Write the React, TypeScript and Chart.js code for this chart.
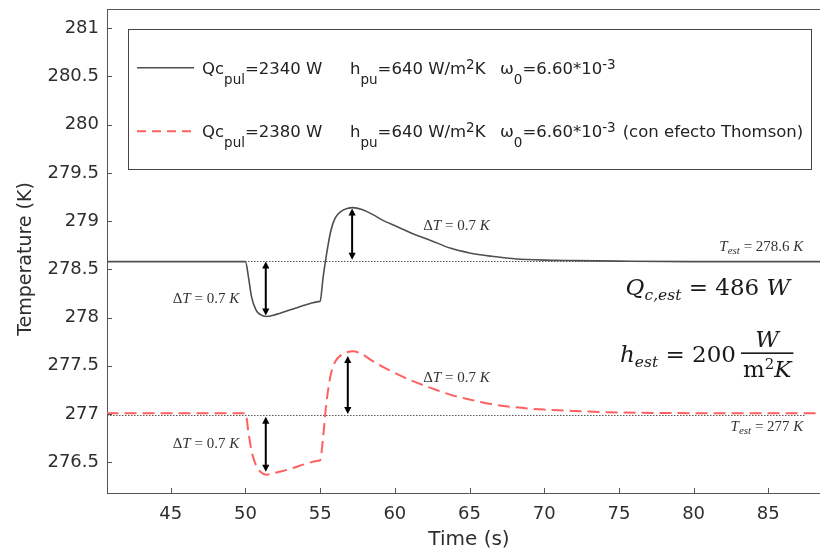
import React, { useEffect, useRef } from "react";
import { Chart, registerables } from "chart.js";

Chart.register(...registerables);

// ---------- data ----------
const timeS = [40.7, 50.0, 50.2, 50.4, 50.7, 51.0, 51.4, 52.0, 53.0, 54.0, 54.9, 55.0, 55.2, 55.4, 55.7, 56.0, 56.4, 56.8, 57.2, 57.8, 58.5, 59.3, 60.2, 61.2, 62.4, 63.7, 65.0, 66.5, 68.0, 70.0, 72.0, 75.0, 80.0, 89.2];
const tempNoThomson = [278.58, 278.58, 278.42, 278.22, 278.08, 278.03, 278.01, 278.03, 278.08, 278.13, 278.165, 278.17, 278.42, 278.63, 278.89, 279.03, 279.10, 279.13, 279.14, 279.12, 279.07, 279.00, 278.94, 278.87, 278.80, 278.72, 278.67, 278.635, 278.61, 278.595, 278.59, 278.585, 278.58, 278.58];
const tempThomson = [277.007, 277.007, 276.81, 276.62, 276.47, 276.40, 276.37, 276.39, 276.43, 276.48, 276.515, 276.52, 276.76, 277.09, 277.40, 277.54, 277.61, 277.64, 277.65, 277.62, 277.55, 277.48, 277.41, 277.34, 277.27, 277.20, 277.15, 277.10, 277.07, 277.045, 277.03, 277.015, 277.008, 277.007];

const xTickValues = [45, 50, 55, 60, 65, 70, 75, 80, 85];
const yTickValues = [276.5, 277, 277.5, 278, 278.5, 279, 279.5, 280, 280.5, 281];
const xRange = [40.73, 89.2];
const yRange = [276.18, 281.2];
const xTitle = "Time (s)";
const yTitle = "Temperature (K)";

const steadyTemps = [278.59, 276.99];
const steadyLineEnd = 87.46;
const steadyLabels = ["278.6", "277"];
const steadyLabelTemps = [278.73, 276.86];
const steadyLabelRight = 87.35;

const arrowTimes = [51.36, 57.14, 51.36, 56.85];
const arrowTops = [278.58, 279.13, 276.97, 277.6];
const arrowBottoms = [278.02, 278.6, 276.4, 277.0];

const deltaLabelTimes = [45.13, 61.9, 45.13, 61.9];
const deltaLabelTemps = [278.19, 278.95, 276.69, 277.37];
const deltaValue = "0.7";

const qcValue = "486";
const hValue = "200";
const eqTime = [75.45, 75.07];
const eqTemp = [278.23, 277.54];

const legendQc = ["2340", "2380"];
const legendH = "640";
const legendOmega = "6.60";
const legendExtra = ["", "(con efecto Thomson)"];

// ---------- styles ----------
const SANS = '"DejaVu Sans", Verdana, sans-serif';
const SERIF = '"Liberation Serif", "Times New Roman", serif';
const MATH = '"DejaVu Serif", serif';
const AXIS = "#555555";
const TXT = "#2e2e2e";
const GRAY = "#4f4f4f";
const RED = "#ff6060";

type Seg = { t: string; f: string; dy?: number };

function segsWidth(ctx: CanvasRenderingContext2D, segs: Seg[]) {
  let w = 0;
  for (const s of segs) {
    ctx.font = s.f;
    w += ctx.measureText(s.t).width;
  }
  return w;
}

function drawSegs(ctx: CanvasRenderingContext2D, segs: Seg[], x: number, y: number) {
  let cx = x;
  for (const s of segs) {
    ctx.font = s.f;
    ctx.fillText(s.t, cx, y + (s.dy || 0));
    cx += ctx.measureText(s.t).width;
  }
  return cx;
}

function drawArrow(ctx: CanvasRenderingContext2D, x: number, yTop: number, yBot: number) {
  const h = 7;
  const w = 3.6;
  ctx.beginPath();
  ctx.moveTo(x, yTop + h - 1);
  ctx.lineTo(x, yBot - h + 1);
  ctx.stroke();
  ctx.beginPath();
  ctx.moveTo(x, yTop);
  ctx.lineTo(x - w, yTop + h);
  ctx.lineTo(x + w, yTop + h);
  ctx.closePath();
  ctx.fill();
  ctx.beginPath();
  ctx.moveTo(x, yBot);
  ctx.lineTo(x - w, yBot - h);
  ctx.lineTo(x + w, yBot - h);
  ctx.closePath();
  ctx.fill();
}

const overlayPlugin = {
  id: "overlay",
  beforeDatasetsDraw(chart: any) {
    const { ctx, chartArea: a, scales } = chart;
    const x = scales.x;
    const y = scales.y;
    ctx.save();
    ctx.strokeStyle = "#555";
    ctx.lineWidth = 1;
    ctx.setLineDash([1.5, 1.5]);
    for (const t of steadyTemps) {
      const py = Math.round(y.getPixelForValue(t)) + 0.5;
      ctx.beginPath();
      ctx.moveTo(a.left, py);
      ctx.lineTo(x.getPixelForValue(steadyLineEnd), py);
      ctx.stroke();
    }
    ctx.restore();
  },
  afterDatasetsDraw(chart: any) {
    const { ctx, chartArea: a, scales } = chart;
    const x = scales.x;
    const y = scales.y;
    ctx.save();
    // frame top + inward ticks
    ctx.strokeStyle = AXIS;
    ctx.lineWidth = 1;
    ctx.beginPath();
    ctx.moveTo(a.left, a.top + 0.5);
    ctx.lineTo(a.right, a.top + 0.5);
    ctx.stroke();
    for (const v of xTickValues) {
      const px = Math.round(x.getPixelForValue(v)) + 0.5;
      ctx.beginPath();
      ctx.moveTo(px, a.bottom);
      ctx.lineTo(px, a.bottom - 5);
      ctx.stroke();
    }
    for (const v of yTickValues) {
      const py = Math.round(y.getPixelForValue(v)) + 0.5;
      ctx.beginPath();
      ctx.moveTo(a.left, py);
      ctx.lineTo(a.left + 5, py);
      ctx.stroke();
    }

    // y axis title
    ctx.save();
    ctx.fillStyle = TXT;
    ctx.font = `19px ${SANS}`;
    ctx.textAlign = "center";
    ctx.textBaseline = "middle";
    ctx.translate(26, (a.top + a.bottom) / 2 + 8);
    ctx.rotate(-Math.PI / 2);
    ctx.fillText(yTitle, 0, 0);
    ctx.restore();

    // arrows
    ctx.strokeStyle = "#000";
    ctx.fillStyle = "#000";
    ctx.lineWidth = 2;
    for (let i = 0; i < arrowTimes.length; i++) {
      drawArrow(ctx, x.getPixelForValue(arrowTimes[i]), y.getPixelForValue(arrowTops[i]), y.getPixelForValue(arrowBottoms[i]));
    }

    // delta labels
    ctx.fillStyle = "#333";
    ctx.textBaseline = "middle";
    const fN = `15px ${SERIF}`;
    const fI = `italic 15px ${SERIF}`;
    for (let i = 0; i < deltaLabelTimes.length; i++) {
      drawSegs(
        ctx,
        [
          { t: "\u0394", f: fN },
          { t: "T", f: fI },
          { t: ` = ${deltaValue} `, f: fN },
          { t: "K", f: fI },
        ],
        x.getPixelForValue(deltaLabelTimes[i]),
        y.getPixelForValue(deltaLabelTemps[i])
      );
    }

    // T_est labels
    for (let i = 0; i < steadyLabels.length; i++) {
      const segs: Seg[] = [
        { t: "T", f: fI },
        { t: "est", f: `italic 11px ${SERIF}`, dy: 4 },
        { t: ` = ${steadyLabels[i]} `, f: fN },
        { t: "K", f: fI },
      ];
      const w = segsWidth(ctx, segs);
      drawSegs(ctx, segs, x.getPixelForValue(steadyLabelRight) - w, y.getPixelForValue(steadyLabelTemps[i]));
    }

    // big equations
    ctx.fillStyle = "#1a1a1a";
    ctx.textBaseline = "alphabetic";
    const bN = `23px ${MATH}`;
    const bI = `italic 23px ${MATH}`;
    const sI = `italic 15.5px ${MATH}`;
    drawSegs(
      ctx,
      [
        { t: "Q", f: bI },
        { t: "c,est", f: sI, dy: 5 },
        { t: ` = ${qcValue} `, f: bN },
        { t: "W", f: bI },
      ],
      x.getPixelForValue(eqTime[0]),
      y.getPixelForValue(eqTemp[0])
    );
    const hx = x.getPixelForValue(eqTime[1]);
    const hy = y.getPixelForValue(eqTemp[1]);
    const endX = drawSegs(
      ctx,
      [
        { t: "h", f: bI },
        { t: "est", f: sI, dy: 5 },
        { t: ` = ${hValue}`, f: bN },
      ],
      hx,
      hy
    );
    const fracL = endX + 5;
    const den: Seg[] = [
      { t: "m", f: bN },
      { t: "2", f: `15px ${MATH}`, dy: -8 },
      { t: "K", f: bI },
    ];
    const denW = segsWidth(ctx, den);
    const barW = denW + 4;
    ctx.fillRect(fracL, hy - 9.5, barW, 1.6);
    ctx.font = bI;
    const wW = ctx.measureText("W").width;
    ctx.fillText("W", fracL + (barW - wW) / 2, hy - 15);
    drawSegs(ctx, den, fracL + 2, hy + 15);

    ctx.restore();
  },
  afterDraw(chart: any) {
    const { ctx } = chart;
    ctx.save();
    // legend box
    const bx = 128.5;
    const by = 29.5;
    const bw = 683;
    const bh = 140;
    ctx.fillStyle = "#fff";
    ctx.fillRect(bx, by, bw, bh);
    ctx.strokeStyle = "#444";
    ctx.lineWidth = 1;
    ctx.strokeRect(bx, by, bw, bh);

    const mainF = `16.5px ${SANS}`;
    const subF = `13.5px ${SANS}`;
    const baselines = [73.5, 137];
    const colors = [GRAY, RED];
    const groupX = [202, 350, 500];
    for (let i = 0; i < 2; i++) {
      const bl = baselines[i];
      const ly = bl - 5.8;
      ctx.strokeStyle = colors[i];
      ctx.lineWidth = i === 0 ? 1.5 : 2;
      ctx.setLineDash(i === 0 ? [] : [9, 6]);
      ctx.beginPath();
      ctx.moveTo(137, ly);
      ctx.lineTo(194, ly);
      ctx.stroke();
      ctx.setLineDash([]);

      ctx.fillStyle = "#222";
      ctx.textBaseline = "alphabetic";
      drawSegs(
        ctx,
        [
          { t: "Qc", f: mainF },
          { t: "pul", f: subF, dy: 10 },
          { t: `=${legendQc[i]} W`, f: mainF },
        ],
        groupX[0],
        bl
      );
      drawSegs(
        ctx,
        [
          { t: "h", f: mainF },
          { t: "pu", f: subF, dy: 10 },
          { t: `=${legendH} W/m`, f: mainF },
          { t: "2", f: subF, dy: -5 },
          { t: "K", f: mainF },
        ],
        groupX[1],
        bl
      );
      const endX = drawSegs(
        ctx,
        [
          { t: "\u03C9", f: mainF },
          { t: "0", f: subF, dy: 10 },
          { t: `=${legendOmega}*10`, f: mainF },
          { t: "-3", f: subF, dy: -5 },
        ],
        groupX[2],
        bl
      );
      if (legendExtra[i]) {
        ctx.font = mainF;
        ctx.fillText(legendExtra[i], endX + 7, bl);
      }
    }
    ctx.restore();
  },
};

export default function App() {
  const ref = useRef<HTMLCanvasElement>(null);
  useEffect(() => {
    const canvas = ref.current;
    if (!canvas) return;
    const chart = new Chart(canvas, {
      type: "line",
      data: {
        datasets: [
          {
            label: `Qc_pul=${legendQc[0]} W`,
            data: timeS.map((t, i) => ({ x: t, y: tempNoThomson[i] })),
            borderColor: GRAY,
            borderWidth: 1.6,
            pointRadius: 0,
            cubicInterpolationMode: "monotone",
            fill: false,
          },
          {
            label: `Qc_pul=${legendQc[1]} W`,
            data: timeS.map((t, i) => ({ x: t, y: tempThomson[i] })),
            borderColor: RED,
            borderWidth: 2,
            borderDash: [12, 6],
            pointRadius: 0,
            cubicInterpolationMode: "monotone",
            fill: false,
          },
        ],
      },
      options: {
        animation: false,
        responsive: false,
        devicePixelRatio: 1,
        layout: { padding: { top: 9, left: 0, right: 0, bottom: 0 }, autoPadding: false },
        plugins: { legend: { display: false }, tooltip: { enabled: false } },
        scales: {
          x: {
            type: "linear",
            min: xRange[0],
            max: xRange[1],
            grid: { display: false, drawTicks: false },
            border: { display: true, color: AXIS, width: 1 },
            ticks: {
              padding: 11,
              color: TXT,
              font: { family: SANS, size: 18 },
              callback: (v: any) => String(Number(v)),
            },
            title: {
              display: true,
              text: xTitle,
              color: TXT,
              font: { family: SANS, size: 20 },
              padding: { top: 0, bottom: 0 },
            },
            afterBuildTicks: (s: any) => {
              s.ticks = xTickValues.map((v) => ({ value: v }));
            },
            afterFit: (s: any) => {
              s.height = 59;
              s.paddingLeft = 0;
              s.paddingRight = 0;
            },
          },
          y: {
            type: "linear",
            min: yRange[0],
            max: yRange[1],
            grid: { display: false, drawTicks: false },
            border: { display: true, color: AXIS, width: 1 },
            ticks: {
              padding: 8,
              color: TXT,
              font: { family: SANS, size: 18 },
              callback: (v: any) => String(Number(v)),
            },
            title: { display: false, text: yTitle },
            afterBuildTicks: (s: any) => {
              s.ticks = yTickValues.map((v) => ({ value: v }));
            },
            afterFit: (s: any) => {
              s.width = 107;
              s.paddingTop = 0;
              s.paddingBottom = 0;
            },
          },
        },
      } as any,
      plugins: [overlayPlugin],
    });
    return () => chart.destroy();
  }, []);
  return (
    <div style={{ position: "absolute", left: 0, top: 0, width: 820, height: 552, overflow: "hidden", background: "#fff" }}>
      <canvas ref={ref} width={831} height={552} style={{ width: 831, height: 552, display: "block" }} />
    </div>
  );
}
